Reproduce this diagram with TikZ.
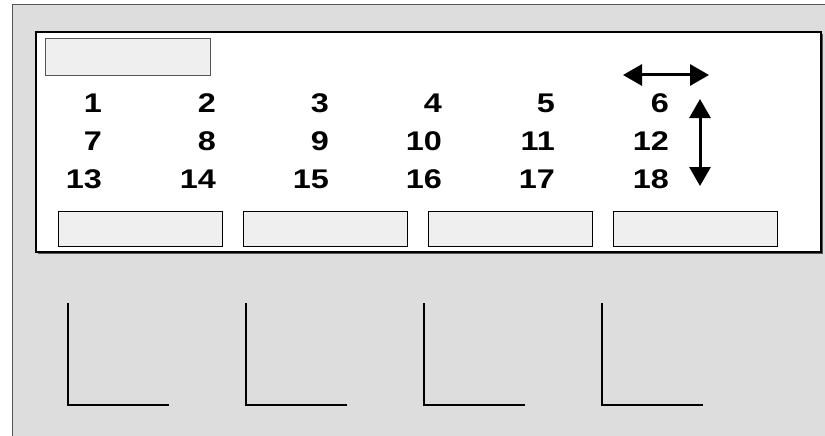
\documentclass[tikz,border=0pt]{standalone}
\usepackage{fontspec}
\setmainfont{Liberation Sans}
\usetikzlibrary{arrows.meta}
\definecolor{bggray}{HTML}{DDDDDD}
\definecolor{boxfill}{HTML}{EFEFEF}
\definecolor{edgegray}{HTML}{555555}
\tikzset{
  numlabel/.style={anchor=base east, inner sep=0pt, font=\fontsize{27}{27}\selectfont\bfseries},
  panelbox/.style={draw=black, line width=1pt, fill=boxfill, minimum width=164pt, minimum height=35pt, inner sep=0pt},
  axisline/.style={draw=black, line width=1.5pt},
  bigarrow/.style={line width=3pt, {Triangle[length=19pt,width=21pt]}-{Triangle[length=19pt,width=21pt]}}
}
\newcommand{\numtxt}[1]{\scalebox{1.2}[1]{#1}}
\begin{document}
\begin{tikzpicture}[x=1pt,y=-1pt]
\useasboundingbox (0,0) rectangle (825,436);
% outer gray panel
\fill[bggray] (12,4) rectangle (830,440);
\draw[edgegray, line width=0.8pt] (830,4) -- (12,4) -- (12,440);
\draw[edgegray, line width=1.5pt] (12.5,4) -- (12.5,440);
% inner white panel with shadow
\draw[edgegray, line width=1.5pt] (38,253.5) -- (822.5,253.5) -- (822.5,34);
\draw[black, line width=1.5pt, fill=white] (36,32) rectangle (821,252);
% top-left box
\node[panelbox, draw=edgegray, minimum height=37pt, minimum width=165pt] (title) at (127.5,57.5) {};
% bottom boxes
\node[panelbox] (b1) at (140,228.5) {};
\node[panelbox] (b2) at (325,228.5) {};
\node[panelbox] (b3) at (510,228.5) {};
\node[panelbox] (b4) at (695,228.5) {};
% numbers
\foreach \r/\yb in {0/112,1/150,2/188}{
  \foreach \c/\xr in {1/102,2/216,3/329,4/442,5/555,6/669}{
    \pgfmathtruncatemacro{\n}{\r*6+\c}
    \node[numlabel] (n\n) at (\xr,\yb) {\numtxt{\n}};
  }
}
% arrows
\coordinate (hl) at (623,75);
\coordinate (hr) at (709,75);
\coordinate (vt) at (700,99);
\coordinate (vb) at (700,186);
\draw[bigarrow] (hl) -- (hr);
\draw[bigarrow] (vt) -- (vb);
% L shapes
\foreach \x in {68,246,424,602}{
  \draw[axisline] (\x,303) -- (\x,405) -- (\x+101,405);
}
\end{tikzpicture}
\end{document}
